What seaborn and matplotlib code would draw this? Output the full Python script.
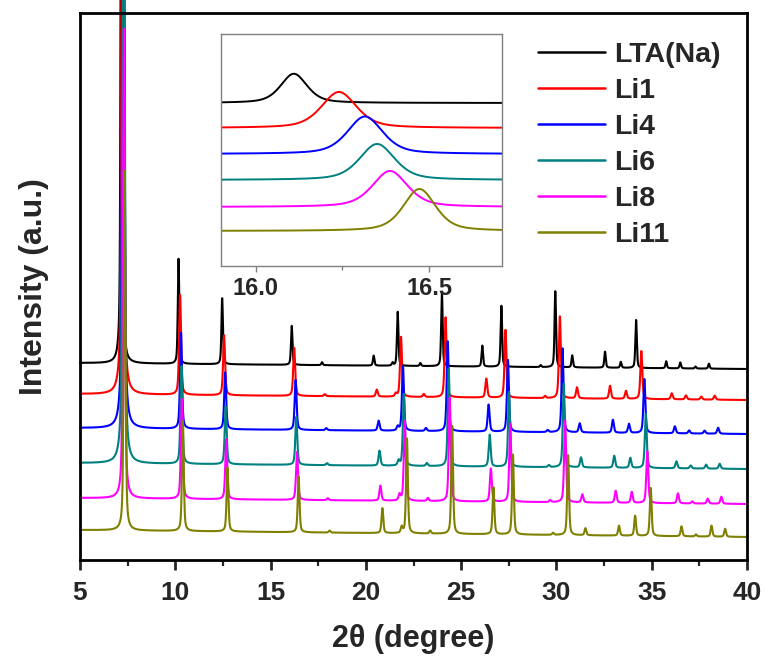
import numpy as np
import pandas as pd
import matplotlib
matplotlib.use("Agg")
import matplotlib.pyplot as plt
import seaborn as sns
from matplotlib.ticker import MultipleLocator

# ---- samples -------------------------------------------------------------
samples = ["LTA(Na)", "Li1", "Li4", "Li6", "Li8", "Li11"]
colors = ["#000000", "#ff0000", "#0000ff", "#008080", "#ff00ff", "#808000"]

# reflection positions of the parent LTA(Na) pattern (degree 2θ)
base_positions = [7.18, 10.17, 12.46, 16.11, 17.70, 20.41, 21.40, 21.67, 22.86,
                  23.99, 26.11, 27.11, 29.17, 29.94, 30.83, 32.55, 33.38, 34.18,
                  35.76, 36.50, 37.30, 38.00]

# position of the ~16.1° reflection in every sample (cell contraction with Li)
peak_16 = [16.11, 16.24, 16.315, 16.35, 16.387, 16.472]

# peak heights (a.u.) for every reflection above
h_lta_na = [900, 105, 66, 39, 3, 10, 3, 54, 3, 74, 21, 61, 2, 76, 12, 16, 6, 48, 7, 6, 2, 5]
h_li1 = [900, 100, 60, 48, 2, 7, 3, 60, 3, 80, 19, 68, 2, 82, 11, 13, 8, 48, 6, 4, 3, 4]
h_li4 = [900, 96, 57, 50, 2, 10, 4, 65, 3, 90, 27, 72, 2, 84, 9, 13, 9, 54, 7, 3, 3, 6]
h_li6 = [900, 98, 58, 48, 2, 15, 5, 72, 3, 98, 32, 75, 2, 84, 10, 12, 10, 54, 7, 3, 4, 5]
h_li8 = [470, 100, 60, 48, 2, 15, 6, 80, 3, 104, 33, 78, 2, 82, 8, 12, 11, 52, 10, 2, 5, 7]
h_li11 = [360, 110, 64, 56, 2, 25, 6, 95, 3, 108, 47, 80, 2, 80, 7, 10, 20, 48, 10, 2, 11, 8]
heights = [h_lta_na, h_li1, h_li4, h_li6, h_li8, h_li11]

# peak widths (FWHM, degree) per sample
fwhm = [0.09, 0.12, 0.12, 0.12, 0.12, 0.11]

# stacked baselines at 5° and 40°
bg_start = [197, 166, 132, 97, 62, 30]
bg_end = [191, 160, 126, 91, 56, 23]

# inset: vertical offsets of the stacked curves and intensity scale
inset_offsets = [163, 138, 112, 86, 59, 35]
inset_scale = 0.75

x_ticks = [5, 10, 15, 20, 25, 30, 35, 40]
inset_ticks = [16.0, 16.5]


def pseudo_voigt(x, centers, amps, width, eta=0.5):
    hw = width / 2.0
    y = np.zeros_like(x)
    for c, a in zip(centers, amps):
        d = (x - c) / hw
        y += a * (eta / (1.0 + d * d) + (1.0 - eta) * np.exp(-np.log(2) * d * d))
    return y


two_theta = np.arange(5.0, 40.0001, 0.005)
zoom_theta = np.arange(15.9, 16.7101, 0.002)

main_frames, inset_frames = [], []
for i, name in enumerate(samples):
    scale = peak_16[i] / base_positions[3]
    centers = np.array(base_positions) * scale
    bg = bg_start[i] + (bg_end[i] - bg_start[i]) * (two_theta - 5.0) / 35.0
    y = bg + pseudo_voigt(two_theta, centers, heights[i], fwhm[i])
    main_frames.append(pd.DataFrame({"two_theta": two_theta, "intensity": y, "sample": name}))
    yz = inset_offsets[i] + inset_scale * pseudo_voigt(zoom_theta, centers, heights[i], fwhm[i])
    inset_frames.append(pd.DataFrame({"two_theta": zoom_theta, "intensity": yz, "sample": name}))

main_df = pd.concat(main_frames, ignore_index=True)
inset_df = pd.concat(inset_frames, ignore_index=True)
palette = dict(zip(samples, colors))

# ---- styling --------------------------------------------------------------
sns.set_style("white")
plt.rcParams["font.family"] = ["Liberation Sans", "DejaVu Sans"]
plt.rcParams["font.weight"] = "bold"
plt.rcParams["axes.labelweight"] = "bold"

fig = plt.figure(figsize=(7.67, 6.59), dpi=100)
ax = fig.add_axes([80 / 767, 1 - 560 / 659, 667 / 767, 547 / 659])

sns.lineplot(data=main_df, x="two_theta", y="intensity", hue="sample",
             hue_order=samples, palette=palette, estimator=None, sort=False,
             linewidth=1.5, ax=ax)
for ln in ax.get_lines():
    ln.set_clip_on(False)

ax.set_xlim(5, 40)
ax.set_ylim(0, 547)
ax.set_xticks(x_ticks)
ax.xaxis.set_minor_locator(MultipleLocator(2.5))
ax.tick_params(axis="x", which="major", direction="out", length=7, width=2,
               labelsize=19, pad=8, bottom=True)
ax.tick_params(axis="x", which="minor", direction="out", length=4, width=1.6,
               bottom=True)
ax.tick_params(axis="y", left=False, labelleft=False)
for sp in ax.spines.values():
    sp.set_linewidth(2.0)
    sp.set_color("black")
ax.set_xlabel("2θ (degree)", fontsize=22, labelpad=14)
ax.set_ylabel("Intensity (a.u.)", fontsize=23, labelpad=22)

handles, labels = ax.get_legend_handles_labels()
ax.get_legend().remove()
leg = ax.legend(handles, labels, loc="upper left",
                bbox_to_anchor=(538 / 767, 1 - 42 / 659),
                bbox_transform=fig.transFigure, frameon=False, borderpad=0,
                borderaxespad=0, handlelength=2.35, handletextpad=0.32,
                labelspacing=0.35, prop={"size": 20.5, "weight": "bold"})
for ln in leg.get_lines():
    ln.set_linewidth(1.8)

# ---- inset: the ~16° reflection ---------------------------------------------
axin = fig.add_axes([221 / 767, 1 - 266 / 659, 281 / 767, 232 / 659])
axin.set_facecolor("white")
sns.lineplot(data=inset_df, x="two_theta", y="intensity", hue="sample",
             hue_order=samples, palette=palette, estimator=None, sort=False,
             linewidth=1.4, legend=False, ax=axin)
axin.set_xlim(15.9, 16.71)
axin.set_ylim(0, 232)
axin.set_xticks(inset_ticks)
axin.set_xticklabels([f"{t:.1f}" for t in inset_ticks])
axin.xaxis.set_minor_locator(MultipleLocator(0.25))
axin.tick_params(axis="x", which="major", direction="out", length=4, width=1,
                 color="#808080", labelsize=17, pad=4, bottom=True)
axin.tick_params(axis="x", which="minor", direction="out", length=3, width=1,
                 color="#808080", bottom=True)
axin.tick_params(axis="y", left=False, labelleft=False)
axin.set_xlabel("")
axin.set_ylabel("")
for sp in axin.spines.values():
    sp.set_linewidth(1.0)
    sp.set_color("#808080")

fig.savefig("out.png", dpi=100)
